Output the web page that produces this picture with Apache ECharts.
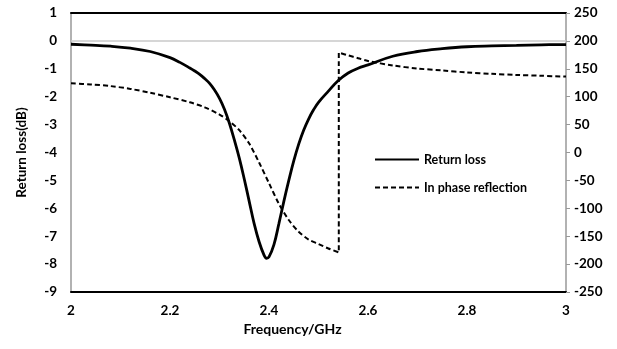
<!DOCTYPE html>
<html><head><meta charset="utf-8">
<script src="https://cdn.jsdelivr.net/npm/echarts@6/dist/echarts.min.js"></script>
<style>html,body{margin:0;padding:0;background:#fff}#c{width:617px;height:349px}</style>
</head><body><div id="c"></div>
<script>
const freqRL = [2.00,2.04,2.08,2.12,2.16,2.20,2.22,2.24,2.25,2.26,2.27,2.28,2.29,2.30,2.31,2.32,2.33,2.34,2.35,2.36,2.37,2.38,2.39,2.395,2.40,2.41,2.42,2.43,2.44,2.45,2.46,2.47,2.48,2.49,2.50,2.52,2.54,2.56,2.58,2.60,2.65,2.70,2.75,2.80,2.85,2.90,2.95,3.00];
const returnLoss = [-0.12,-0.15,-0.19,-0.26,-0.38,-0.6,-0.77,-0.97,-1.08,-1.2,-1.35,-1.52,-1.76,-2.06,-2.45,-2.95,-3.55,-4.2,-4.95,-5.75,-6.55,-7.2,-7.68,-7.79,-7.74,-7.3,-6.55,-5.75,-5.0,-4.3,-3.7,-3.2,-2.8,-2.47,-2.2,-1.8,-1.42,-1.15,-0.98,-0.86,-0.55,-0.38,-0.28,-0.21,-0.18,-0.16,-0.14,-0.13];
const freqPh = [2.00,2.04,2.08,2.12,2.16,2.20,2.24,2.27,2.30,2.32,2.34,2.36,2.38,2.40,2.42,2.44,2.46,2.48,2.50,2.52,2.541,2.541,2.56,2.58,2.60,2.65,2.70,2.75,2.80,2.85,2.90,2.95,3.00];
const phase = [124,122,119,114,107,99,90,81,68,56,40,16,-18,-55,-92,-121,-142,-156,-164,-172,-179,179,174,169,164,156,150.5,147,143.5,141,139,137.5,136];
const seriesNames = ['Return loss','In phase reflection'];
const xTitle = 'Frequency/GHz', yTitle = 'Return loss(dB)';

const font = 'Lato';
const chart = echarts.init(document.getElementById('c'));
chart.setOption({
  animation:false,
  backgroundColor:'#fff',
  textStyle:{fontFamily:font},
  grid:{left:71,right:51,top:13,bottom:57},
  legend:{
    orient:'vertical', left:369, top:148, itemWidth:44, itemHeight:12, itemGap:15,
    itemStyle:{opacity:0},
    textStyle:{fontFamily:font,fontWeight:'bold',fontSize:12.5,color:'#000'},
    data:seriesNames
  },
  xAxis:[{
    type:'value', min:2, max:3, interval:0.2, position:'bottom',
    name:xTitle, nameLocation:'middle', nameGap:28,
    nameTextStyle:{fontFamily:font,fontWeight:'bold',fontSize:14,color:'#000',padding:[0,52,0,0]},
    axisLine:{show:true,onZero:false,lineStyle:{color:'#000',width:2}},
    axisTick:{show:false}, splitLine:{show:false},
    axisLabel:{fontFamily:font,fontWeight:'bold',fontSize:13.5,color:'#000',margin:12}
  },{
    type:'value', min:2, max:3, position:'top',
    axisLine:{show:true,onZero:false,lineStyle:{color:'#000',width:2}},
    axisTick:{show:false}, axisLabel:{show:false}, splitLine:{show:false}
  }],
  yAxis:[{
    type:'value', min:-9, max:1, interval:1, position:'left',
    name:yTitle, nameLocation:'middle', nameGap:42, nameRotate:90,
    nameTextStyle:{fontFamily:font,fontWeight:'bold',fontSize:13.5,color:'#000'},
    axisLine:{show:true,onZero:false,lineStyle:{color:'#999',width:1.5}},
    axisTick:{show:false}, splitLine:{show:false},
    axisLabel:{fontFamily:font,fontWeight:'bold',fontSize:13.5,color:'#000',margin:14}
  },{
    type:'value', min:-250, max:250, interval:50, position:'right',
    axisLine:{show:true,onZero:false,lineStyle:{color:'#999',width:1.5}},
    axisTick:{show:true,length:4,lineStyle:{color:'#999'}}, splitLine:{show:false},
    axisLabel:{fontFamily:font,fontWeight:'bold',fontSize:13.5,color:'#000',margin:8}
  }],
  series:[{
    name:seriesNames[0], type:'line', xAxisIndex:0, yAxisIndex:0,
    data:freqRL.map((f,i)=>[f,returnLoss[i]]), smooth:0.4, symbol:'none',
    lineStyle:{color:'#000',width:2.8}, itemStyle:{color:'#000'},
    markLine:{silent:true,symbol:'none',label:{show:false},lineStyle:{color:'#c8c8c8',width:1.5,type:'solid'},data:[{yAxis:0}]},
    z:3
  },{
    name:seriesNames[1], type:'line', xAxisIndex:0, yAxisIndex:1,
    data:freqPh.map((f,i)=>[f,phase[i]]), smooth:0.3, symbol:'none',
    lineStyle:{color:'#000',width:2,type:[5,3]}, itemStyle:{color:'#000'},
    z:2
  }]
});
</script></body></html>
